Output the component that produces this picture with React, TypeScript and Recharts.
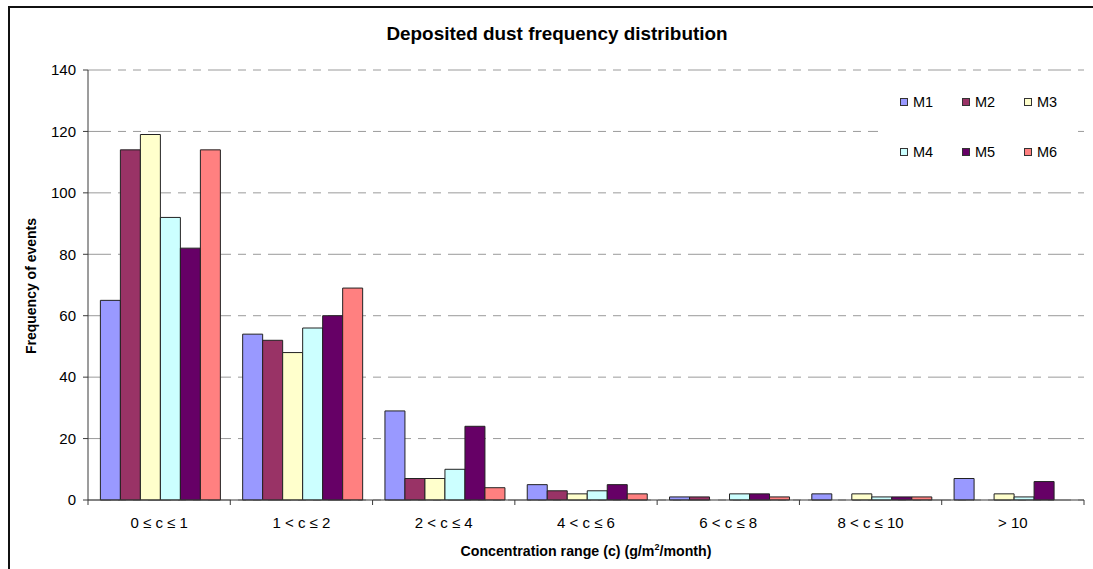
import React from 'react';
import { BarChart, Bar, XAxis, YAxis, CartesianGrid, Legend } from 'recharts';

// Concentration ranges on the category axis
const categories = ['0 ≤ c ≤ 1', '1 < c ≤ 2', '2 < c ≤ 4', '4 < c ≤ 6', '6 < c ≤ 8', '8 < c ≤ 10', '> 10'];

// Number of events per monitoring station
const m1 = [65, 54, 29, 5, 1, 2, 7];
const m2 = [114, 52, 7, 3, 1, 0, 0];
const m3 = [119, 48, 7, 2, 0, 2, 2];
const m4 = [92, 56, 10, 3, 2, 1, 1];
const m5 = [82, 60, 24, 5, 2, 1, 6];
const m6 = [114, 69, 4, 2, 1, 1, 0];

const seriesNames = ['M1', 'M2', 'M3', 'M4', 'M5', 'M6'];
const seriesValues = [m1, m2, m3, m4, m5, m6];
const seriesColors = ['#9999FF', '#993366', '#FFFFCC', '#CCFFFF', '#660066', '#FF8080'];

const yTicks = [0, 20, 40, 60, 80, 100, 120, 140];

const data = categories.map((range, i) => {
  const row: Record<string, string | number> = { range };
  seriesNames.forEach((name, s) => {
    row[name] = seriesValues[s][i];
  });
  return row;
});

const FONT = '"Liberation Sans", Arial, sans-serif';
const AXIS_COLOR = '#3a3a3a';

// Category label plus tick marks placed on the category boundaries
const CategoryTick = (props: any) => {
  const { x, y, payload, index, visibleTicksCount, width } = props;
  const half =
    typeof payload?.offset === 'number' && payload.offset > 0
      ? payload.offset
      : width / visibleTicksCount / 2;
  const axisY = y - 5;
  return (
    <g>
      <line x1={x - half} x2={x - half} y1={axisY} y2={axisY + 5} stroke={AXIS_COLOR} />
      {index === visibleTicksCount - 1 && (
        <line x1={x + half} x2={x + half} y1={axisY} y2={axisY + 5} stroke={AXIS_COLOR} />
      )}
      <text x={x} y={axisY + 28} textAnchor="middle" fontSize={15} fill="#000" fontFamily={FONT}>
        {payload.value}
      </text>
    </g>
  );
};

const LegendBox = () => (
  <div
    style={{
      position: 'relative',
      width: 195,
      height: 100,
      background: '#fff',
      fontFamily: FONT,
      fontSize: 14.5,
      color: '#000',
    }}
  >
    {seriesNames.map((name, i) => {
      const col = i % 3;
      const row = Math.floor(i / 3);
      return (
        <div
          key={name}
          style={{
            position: 'absolute',
            left: 22 + col * 62,
            top: 15 + row * 50,
            height: 18,
            display: 'flex',
            alignItems: 'center',
            whiteSpace: 'nowrap',
          }}
        >
          <span
            style={{
              display: 'inline-block',
              width: 6,
              height: 6,
              border: '1px solid #333',
              background: seriesColors[i],
              marginRight: 5,
            }}
          />
          <span>{name}</span>
        </div>
      );
    })}
  </div>
);

export default function App() {
  return (
    <div style={{ position: 'absolute', left: 0, top: 0, width: 1093, height: 569, background: '#fff', overflow: 'hidden' }}>
      <div
        style={{
          position: 'absolute',
          left: 8,
          top: 6,
          width: 1200,
          height: 700,
          borderTop: '2px solid #111',
          borderLeft: '2px solid #111',
        }}
      />
      <div style={{ position: 'absolute', left: 0, top: 0 }}>
        <BarChart
          width={1093}
          height={569}
          data={data}
          margin={{ top: 70, right: 9, bottom: 0, left: 0 }}
          barCategoryGap="8.7%"
          barGap={0}
        >
          <CartesianGrid
            horizontal
            vertical={false}
            stroke="#9a9a9a"
            strokeDasharray="23 7 8 7 8 7"
          />
          <XAxis
            dataKey="range"
            height={69}
            tickLine={false}
            tickSize={5}
            tickMargin={0}
            interval={0}
            axisLine={{ stroke: AXIS_COLOR }}
            tick={<CategoryTick />}
          />
          <YAxis
            width={88}
            domain={[0, 140]}
            ticks={yTicks}
            tickSize={5}
            tickMargin={7}
            axisLine={{ stroke: AXIS_COLOR }}
            tickLine={{ stroke: AXIS_COLOR }}
            tick={{ fontSize: 15, fill: '#000', fontFamily: FONT }}
          />
          <YAxis
            yAxisId="right"
            orientation="right"
            width={0}
            domain={[0, 140]}
            tick={false}
            tickLine={false}
            axisLine={{ stroke: '#8a8a8a' }}
          />
          <Legend
            layout="horizontal"
            verticalAlign="middle"
            align="center"
            content={<LegendBox />}
            wrapperStyle={{ position: 'absolute', left: 878, top: 78, width: 195, height: 100 }}
          />
          {seriesNames.map((name, i) => (
            <Bar
              key={name}
              dataKey={name}
              name={name}
              fill={seriesColors[i]}
              stroke="#222"
              strokeWidth={1}
              isAnimationActive={false}
            />
          ))}
        </BarChart>
      </div>
      <svg
        width={1093}
        height={569}
        style={{ position: 'absolute', left: 0, top: 0, pointerEvents: 'none' }}
      >
        <text x={557} y={40} textAnchor="middle" fontSize={18.9} fontWeight="bold" fontFamily={FONT} fill="#000">
          Deposited dust frequency distribution
        </text>
        <text
          x={36}
          y={286}
          transform="rotate(-90, 36, 286)"
          textAnchor="middle"
          fontSize={14}
          fontWeight="bold"
          fontFamily={FONT}
          fill="#000"
        >
          Frequency of events
        </text>
        <text x={586} y={556} textAnchor="middle" fontSize={14.2} fontWeight="bold" fontFamily={FONT} fill="#000">
          Concentration range (c) (g/m
          <tspan fontSize={9} dy={-6}>2</tspan>
          <tspan dy={6}>/month)</tspan>
        </text>
      </svg>
    </div>
  );
}
